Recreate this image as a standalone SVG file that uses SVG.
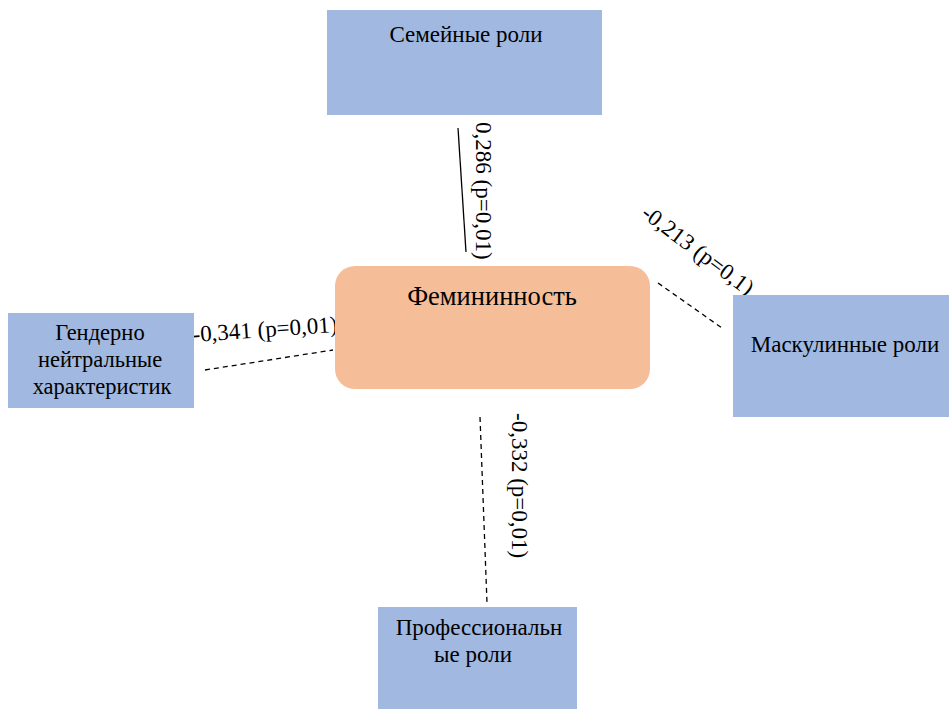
<svg xmlns="http://www.w3.org/2000/svg" width="949" height="709" viewBox="0 0 949 709">
<style>
.box{fill:#A1B8E0;}
.center{fill:#F5BE99;}
text{font-family:"Liberation Serif","Times New Roman",serif;fill:#000;}
.t{font-size:23px;text-anchor:middle;}
.lbl{font-size:23px;}
.solid{stroke:#000;stroke-width:1.3;fill:none;}
.dash{stroke:#000;stroke-width:1.3;stroke-dasharray:5,4;fill:none;}
</style>
<rect width="949" height="709" fill="#fff"/>
<g id="connectors">
<line class="solid" x1="458" y1="128" x2="466" y2="252"/>
<line class="dash" x1="658" y1="283" x2="722" y2="328"/>
<line class="dash" x1="205" y1="370" x2="333" y2="350"/>
<line class="dash" x1="480" y1="417" x2="487" y2="603"/>
<text class="lbl" transform="translate(476,122) rotate(90)">0,286 (p=0,01)</text>
<text class="lbl" transform="translate(640,216) rotate(37)">-0,213 (p=0,1)</text>
<text class="lbl" transform="translate(193,342) rotate(-4)">-0,341 (p=0,01)</text>
<text class="lbl" transform="translate(512,413) rotate(90)">-0,332 (p=0,01)</text>
</g>
<g id="node-family">
<rect class="box" x="327" y="10" width="275" height="105"/>
<text class="t" x="466" y="42">Семейные роли</text>
</g>
<g id="node-femininity">
<rect class="center" x="335" y="266" width="315" height="123" rx="20" ry="20"/>
<text class="t" x="492" y="305" style="font-size:26.5px">Фемининность</text>
</g>
<g id="node-masculine">
<rect class="box" x="733" y="295" width="216" height="122"/>
<text class="t" x="845" y="352">Маскулинные роли</text>
</g>
<g id="node-neutral">
<rect class="box" x="8" y="313" width="186" height="95"/>
<text class="t" x="100" y="340" style="font-size:22.5px">Гендерно</text>
<text class="t" x="100" y="367" style="font-size:22.5px">нейтральные</text>
<text class="t" x="102" y="394" style="font-size:22.5px">характеристик</text>
</g>
<g id="node-professional">
<rect class="box" x="378" y="607" width="199" height="102"/>
<text class="t" x="479" y="635">Профессиональн</text>
<text class="t" x="473" y="662">ые роли</text>
</g>
</svg>
